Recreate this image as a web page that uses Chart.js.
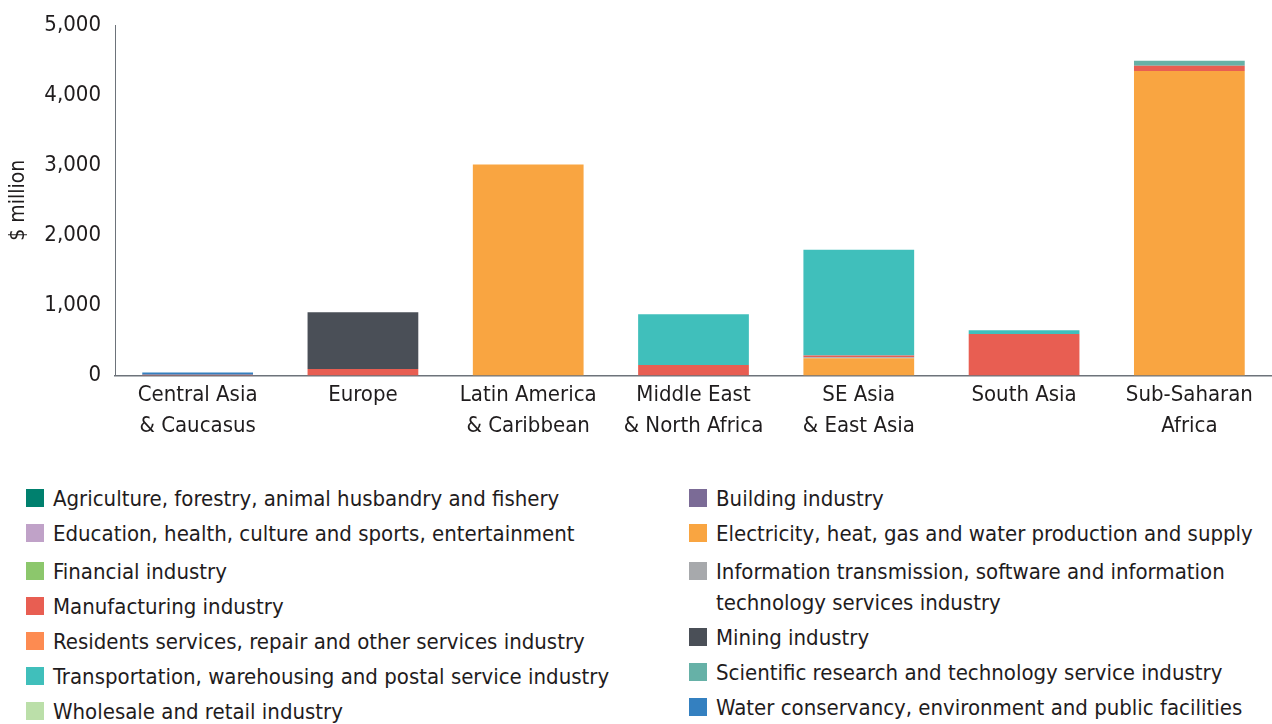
<!DOCTYPE html>
<html>
<head>
<meta charset="utf-8">
<script src="https://cdn.jsdelivr.net/npm/chart.js@4.4.1/dist/chart.umd.min.js"></script>
<style>
  html, body { margin: 0; padding: 0; background: #fff; }
  body { width: 1272px; height: 724px; position: relative; overflow: hidden;
         font-family: 'DejaVu Sans Condensed', 'Liberation Sans Narrow', sans-serif; color: #1f1c1d; }
  #wrap { position: absolute; left: 0; top: 0; width: 1272px; height: 446px; }
  .legcol { position: absolute; top: 483px; }
  .item { display: flex; align-items: flex-start; font-size: 22px; line-height: 31px; margin-bottom: 4px; }
  .item:nth-child(2) { margin-bottom: 7px; }
  .sw { width: 18px; height: 18px; flex: 0 0 18px; margin-top: 6px; margin-right: 9px; }
</style>
</head>
<body>
<div id="wrap"><canvas id="c"></canvas></div>
<div class="legcol" id="col1" style="left:26px; width:640px;"></div>
<div class="legcol" id="col2" style="left:689px; width:580px;"></div>
<script>
const categories = [
  ["Central Asia", "& Caucasus"], "Europe", ["Latin America", "& Caribbean"],
  ["Middle East", "& North Africa"], ["SE Asia", "& East Asia"], "South Asia", ["Sub-Saharan", "Africa"]
];
const yTicks = [0, 1000, 2000, 3000, 4000, 5000];

const agriculture    = [0, 0, 0, 0, 0, 0, 0];
const building       = [0, 0, 0, 0, 0, 0, 0];
const education      = [0, 0, 0, 0, 0, 0, 0];
const electricity    = [0, 0, 3010, 0, 245, 0, 4345];
const financial      = [0, 0, 0, 0, 0, 0, 0];
const information    = [0, 0, 0, 0, 15, 0, 0];
const manufacturing  = [12, 92, 0, 150, 25, 593, 75];
const mining         = [0, 810, 0, 0, 0, 0, 0];
const residents      = [0, 0, 0, 0, 0, 0, 0];
const scientific     = [0, 0, 0, 0, 0, 0, 70];
const transportation = [0, 0, 0, 723, 1510, 52, 0];
const water          = [30, 0, 0, 0, 0, 0, 0];
const wholesale      = [0, 0, 0, 0, 0, 0, 0];

const series = [
  { label: "Agriculture, forestry, animal husbandry and fishery", data: agriculture, color: "#00806e", col: 1 },
  { label: "Building industry", data: building, color: "#7b6b96", col: 2 },
  { label: "Education, health, culture and sports, entertainment", data: education, color: "#c0a2c8", col: 1 },
  { label: "Electricity, heat, gas and water production and supply", data: electricity, color: "#f9a541", col: 2 },
  { label: "Financial industry", data: financial, color: "#8cc76c", col: 1 },
  { label: "Information transmission, software and information technology services industry", data: information, color: "#a7a9ac", col: 2 },
  { label: "Manufacturing industry", data: manufacturing, color: "#e85e52", col: 1 },
  { label: "Mining industry", data: mining, color: "#4a4f57", col: 2 },
  { label: "Residents services, repair and other services industry", data: residents, color: "#fd8b51", col: 1 },
  { label: "Scientific research and technology service industry", data: scientific, color: "#66b1a7", col: 2 },
  { label: "Transportation, warehousing and postal service industry", data: transportation, color: "#40bfbb", col: 1 },
  { label: "Water conservancy, environment and public facilities", data: water, color: "#3480c0", col: 2 },
  { label: "Wholesale and retail industry", data: wholesale, color: "#bbdfa9", col: 1 }
];

const FONT = "'DejaVu Sans Condensed', 'Liberation Sans Narrow', sans-serif";
Chart.defaults.font.family = FONT;
Chart.defaults.color = "#1f1c1d";

const chart = new Chart(document.getElementById('c'), {
  type: 'bar',
  data: {
    labels: categories,
    datasets: series.map(s => ({
      label: s.label, data: s.data, backgroundColor: s.color,
      borderWidth: 0, barPercentage: 0.67, categoryPercentage: 1.0
    }))
  },
  options: {
    responsive: true, maintainAspectRatio: false, animation: false,
    layout: { padding: { top: 12, right: 0, left: 0, bottom: 0 } },
    plugins: { legend: { display: false }, tooltip: { enabled: false } },
    scales: {
      x: {
        stacked: true,
        grid: { display: false, drawTicks: false },
        border: { display: true, color: "#6d737a", width: 1.5 },
        ticks: { font: { size: 22, lineHeight: 1.42 }, color: "#1f1c1d", padding: 4, maxRotation: 0, autoSkip: false }
      },
      y: {
        stacked: true, min: 0, max: 5000,
        afterFit: (s) => { s.width = 115; },
        afterBuildTicks: (s) => { s.ticks = yTicks.map(v => ({ value: v })); },
        grid: { display: false, drawTicks: false },
        border: { display: true, color: "#6d737a", width: 1 },
        ticks: { font: { size: 22, lineHeight: 1.0 }, color: "#1f1c1d", padding: 14,
                 callback: (v) => v.toLocaleString('en-US') },
        title: { display: true, text: "$ million", font: { size: 21 }, color: "#1f1c1d", padding: { top: 6, bottom: 0 } }
      }
    }
  }
});

// HTML legend in two columns, built from the chart's datasets
chart.data.datasets.forEach((ds, i) => {
  const el = document.createElement('div');
  el.className = 'item';
  el.innerHTML = '<span class="sw" style="background:' + ds.backgroundColor + '"></span><span>' + ds.label + '</span>';
  document.getElementById(series[i].col === 1 ? 'col1' : 'col2').appendChild(el);
});
</script>
</body>
</html>
